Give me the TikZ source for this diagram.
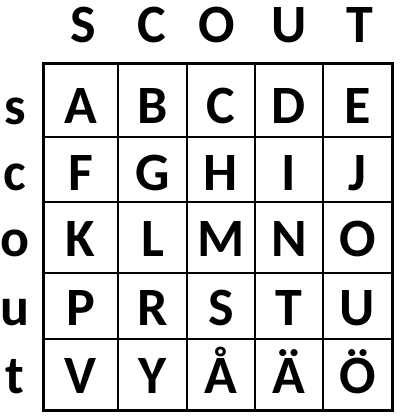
\documentclass[tikz,border=0pt]{standalone}
\usepackage{fontspec}
\setmainfont{Carlito}
\tikzset{letter/.style={anchor=base,inner sep=0pt,
   font=\fontsize{54}{54}\selectfont\bfseries},
 gridline/.style={line width=1.6pt},
 frame/.style={line width=3pt},
 }

\begin{document}
\begin{tikzpicture}[x=1pt,y=-1pt]
        \useasboundingbox (0,0) rectangle (400,418);
        % keyword on top
        \node[letter] (keyS) at (83,42) {S};
        \node[letter] (keyC) at (152,42) {C};
        \node[letter] (keyO) at (217,42) {O};
        \node[letter] (keyU) at (289,42) {U};
        \node[letter] (keyT) at (360,42) {T};
        % keyword on the side
        \node[letter] (sides) at (15,124) {s};
        \node[letter] (sidec) at (15,190) {c};
        \node[letter] (sideo) at (15,256) {o};
        \node[letter] (sideu) at (15,325) {u};
        \node[letter] (sidet) at (15,393) {t};
        % the square
        \foreach \x in {118,187,255,323}
            \draw[gridline] (\x,63) -- (\x,410);
        \foreach \y in {137,202,273,339}
            \draw[gridline] (43,\y) -- (392,\y);
        \draw[frame] (43,63) rectangle (392,410);
        \foreach \n/\t/\x/\y in {A/A/80.5/123, B/B/152.5/123, C/C/221/123, D/D/289/123, E/E/357.5/123,
                F/F/80.5/190, G/G/152.5/190, H/H/221/190, I/I/289/190, J/J/357.5/190,
                K/K/80.5/256, L/L/152.5/256, M/M/221/256, N/N/289/256, O/O/357.5/256,
                P/P/80.5/325, R/R/152.5/325, S/S/221/325, T/T/289/325, U/U/357.5/325,
                V/V/80.5/393, Y/Y/152.5/393, AA/Å/221/393, AE/Ä/289/393, OE/Ö/357.5/393}
            \node[letter] (cell\n) at (\x,\y) {\t};
    \end{tikzpicture}
\end{document}
